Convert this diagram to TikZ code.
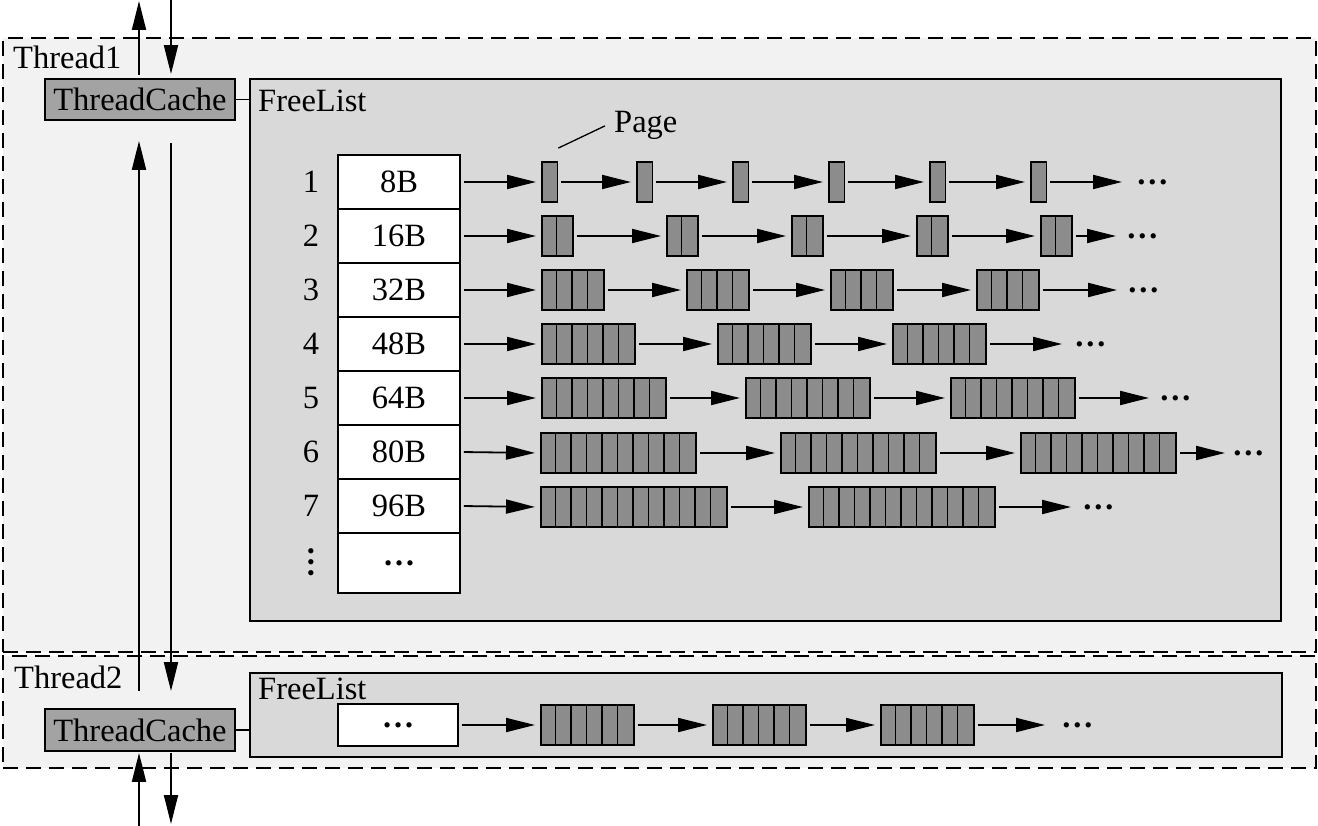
\documentclass[tikz,border=0pt]{standalone}
\usepackage{fontspec}
\setmainfont{Liberation Serif}
\usetikzlibrary{arrows.meta,calc}
\definecolor{thbg}{gray}{0.95}
\definecolor{flbg}{gray}{0.85}
\definecolor{tcbg}{gray}{0.64}
\definecolor{pgbg}{gray}{0.55}
\begin{document}
\begin{tikzpicture}[x=1pt,y=-1pt, font=\fontsize{32.5}{39}\selectfont,
  frame/.style={draw, dash pattern=on 15pt off 8pt, line width=1.8pt, fill=thbg, inner sep=0, minimum width=1313pt},
  flbox/.style={draw, line width=1.8pt, fill=flbg, inner sep=0},
  tcbox/.style={draw, line width=1.8pt, fill=tcbg, inner sep=0, minimum width=190pt},
  cellbox/.style={draw, line width=1.8pt, fill=white, inner sep=0, minimum width=122pt},
  pageblk/.style={draw, line width=1.8pt, fill=pgbg, inner sep=0, minimum height=40pt, anchor=west},
  cellsep/.style={line width=1.8pt},
  conn/.style={line width=1.8pt},
  arr/.style={line width=1.8pt, -{Triangle[length=29pt,width=14pt]}},
  lbl/.style={inner sep=0},
  dotlbl/.style={inner sep=0, font=\fontsize{32.5}{39}\selectfont\bfseries},
]
\useasboundingbox (0,0) rectangle (1318,826);
% thread frames
\node[frame, minimum height=614pt] (th1) at (659.5,345) {};
\node[frame, minimum height=112pt] (th2) at (659.5,712) {};
\node[lbl, anchor=base west] (l1) at (13,69) {Thread1};
\node[lbl, anchor=base west] (l2) at (14,688) {Thread2};
% free list boxes
\node[flbox, minimum width=1031pt, minimum height=542pt] (fl1) at (765.5,350) {};
\node[lbl, anchor=base west] (fln1) at (258,112) {FreeList};
\node[flbox, minimum width=1032pt, minimum height=84pt] (fl2) at (766,715) {};
\node[lbl, anchor=base west] (fln2) at (258,699) {FreeList};
% thread caches
\node[tcbox, minimum height=41pt] (tc1) at (140,99.5) {ThreadCache};
\node[tcbox, minimum height=42pt] (tc2) at (140,730) {ThreadCache};
\draw[conn] (tc1.east) -- (tc1.east -| fl1.west);
\draw[conn] (tc2.east) -- (tc2.east -| fl2.west);
% vertical arrows
\coordinate (u0) at (139,0);
\coordinate (v0) at (171,0);
\coordinate (u3) at (139,826);
\coordinate (v3) at (171,826);
\draw[arr, shorten <=3pt, shorten >=1pt] (tc1.north -| u0) -- (u0);
\draw[arr, shorten >=4pt] (v0) -- (tc1.north -| v0);
\draw[arr, shorten <=17pt, shorten >=20pt] (tc2.north -| u0) -- (tc1.south -| u0);
\draw[arr, shorten <=22pt, shorten >=17pt] (tc1.south -| v0) -- (tc2.north -| v0);
\draw[arr, shorten >=1pt] (u3) -- (tc2.south -| u3);
\draw[arr, shorten <=1pt, shorten >=2pt] (tc2.south -| v3) -- (v3);
% size table
\foreach \i/\t in {1/8B,2/16B,3/32B,4/48B,5/64B,6/80B,7/96B} {
  \node[cellbox, minimum height=54pt] (c\i) at (399,{128+54*\i}) {\t};
  \node[lbl] (n\i) at (311,{128+54*\i}) {\i};
}
\node[cellbox, minimum height=60pt, font=\fontsize{32.5}{39}\selectfont\bfseries] (c8) at (399,563) {…};
\node[dotlbl, rotate=90] (n8) at (311,562) {…};
\node[cellbox, minimum width=120pt, minimum height=42pt, font=\fontsize{32.5}{39}\selectfont\bfseries] (c9) at (398,725) {…};
% page lists
\foreach \r/\yy/\nc/\xs/\ae/\dx in {
 1/182/1/{541,636,732,828,929,1030}/1122/1136,
 2/236/2/{541,666,791,916,1040}/1116/1126,
 3/290/4/{541,686,830,976}/1117/1127,
 4/344/6/{541,717,892}/1062/1074,
 5/398/8/{541,745,950}/1149/1159,
 6/453/10/{540,780,1020}/1225/1232,
 7/507/12/{540,808}/1071/1082,
 9/725/6/{540,712,880}/1045/1061}
{
  \foreach \x [count=\k, remember=\k as \pk (initially 0)] in \xs {
    \node[pageblk, minimum width={\nc*15.5pt}] (b\r-\k) at (\x,\yy) {};
    \ifnum\nc>1
      \foreach \j in {2,...,\nc} {
        \draw[cellsep] ([xshift={(\j-1)*15.5pt}]b\r-\k.north west) -- ([xshift={(\j-1)*15.5pt}]b\r-\k.south west);
      }
    \fi
    \ifnum\k=1
      \draw[arr, shorten <=3pt, shorten >=5pt] (c\r.east) -- (b\r-\k.west);
    \else
      \draw[arr, shorten <=3pt, shorten >=5pt] (b\r-\pk.east) -- (b\r-\k.west);
    \fi
    \xdef\lastk{\k}
  }
  \node[dotlbl, anchor=west] (d\r) at (\dx,\yy) {…};
  \pgfmathsetmacro\sh{\dx-\ae}
  \draw[arr, shorten <=3pt, shorten >=\sh pt] (b\r-\lastk.east) -- (d\r.west);
}
% page pointer
\node[lbl, anchor=base west] (pg) at (614,133) {Page};
\coordinate (pgp) at ([yshift=13pt]b1-1.north east);
\draw[line width=1.3pt] (pgp) -- ([xshift=-9pt]pg.west);
\end{tikzpicture}
\end{document}
